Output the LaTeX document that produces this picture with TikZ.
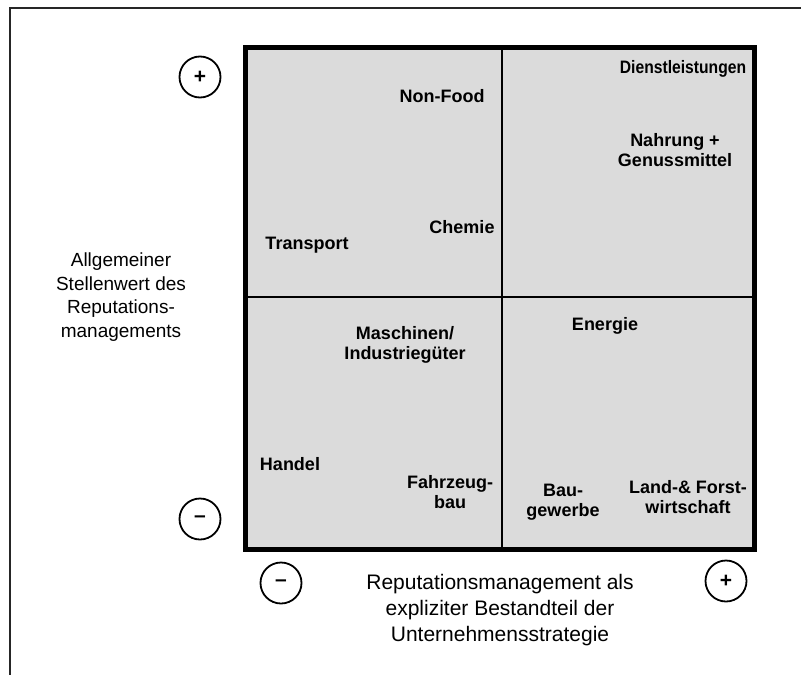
\documentclass[tikz,border=0pt]{standalone}
\usepackage{graphicx}
\usepackage{fontspec}
\setmainfont{Liberation Sans}
\begin{document}
\begin{tikzpicture}[x=1pt,y=-1pt,
  branche/.style={font=\bfseries\fontsize{18}{20.5}\selectfont, align=center, inner sep=0pt},
  yachse/.style={font=\fontsize{19}{23.5}\selectfont, align=center, inner sep=0pt},
  xachse/.style={font=\fontsize{21}{26}\selectfont, align=center, inner sep=0pt},
  pol/.style={circle, draw, line width=1.8pt, minimum size=41pt, inner sep=0pt, font=\bfseries\fontsize{21}{21}\selectfont},
  quadrant/.style={line width=1.4pt}]
\useasboundingbox (0,0) rectangle (801,675);
% open frame around the whole figure
\draw[line width=1.6pt, black!85] (10,675) -- (10,8) -- (801,8);
% portfolio matrix
\draw[line width=5pt, fill=black!14] (245.5,47.5) rectangle (754.5,549);
\coordinate (mt) at (502,50);
\coordinate (mb) at (502,547);
\coordinate (ml) at (248,297);
\coordinate (mr) at (752,297);
\draw[quadrant] (mt) -- (mb);
\draw[quadrant] (ml) -- (mr);
% sectors
\node[branche] (dienst) at (683,69) {\scalebox{0.87}[1]{Dienstleistungen}};
\node[branche] (nonfood) at (442,96) {Non-Food};
\node[branche] (nahrung) at (675,150) {Nahrung +\\Genussmittel};
\node[branche] (chemie) at (462,227) {Chemie};
\node[branche] (transport) at (307,245) {Transport};
\node[branche] (maschinen) at (405,345) {Maschinen/\\Industriegüter};
\node[branche] (energie) at (605,326) {Energie};
\node[branche] (handel) at (290,464) {Handel};
\node[branche] (fahrzeug) at (450,492) {Fahrzeug-\\bau};
\node[branche] (bau) at (563,502) {Bau-\\gewerbe};
\node[branche] (land) at (688,497) {Land-\& Forst-\\wirtschaft};
% axis labels
\node[yachse] (yachse) at (121,297) {Allgemeiner\\Stellenwert des\\Reputations-\\managements};
\node[xachse] (xachse) at (500,610) {Reputationsmanagement als\\expliziter Bestandteil der\\Unternehmensstrategie};
% axis poles
\node[pol] (yplus) at (200,77) {+};
\node[pol] (yminus) at (200,519) {–};
\node[pol] (xminus) at (281,583) {–};
\node[pol] (xplus) at (726,581) {+};
\end{tikzpicture}
\end{document}
